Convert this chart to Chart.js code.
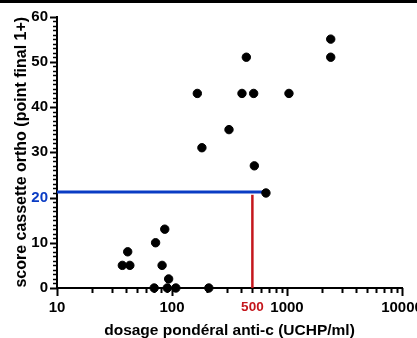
<!DOCTYPE html>
<html lang="fr">
<head>
  <meta charset="UTF-8" />
  <title>Score cassette ortho vs dosage pondéral anti-c</title>
  <script src="https://cdn.jsdelivr.net/npm/chart.js"></script>
  <style>
    * { margin: 0; padding: 0; box-sizing: border-box; }
    body { width: 417px; height: 338px; background: #fff; overflow: hidden; position: relative; }
    .top-bar { position: absolute; top: 0; left: 0; width: 417px; height: 3px; background: #000; }
    canvas { display: block; }
  </style>
</head>
<body>
<div class="top-bar"></div>
<canvas id="chart" width="417" height="338"></canvas>
<script>
  // data
  const dose  = [2400, 2400, 443, 166, 406, 513, 1040, 313, 182, 520, 656,
                 86.5, 72, 41.2, 37, 43, 82, 93.5, 70, 91, 108, 209];
  const score = [55, 51, 51, 43, 43, 43, 43, 35, 31, 27, 21,
                 13, 10, 8, 5, 5, 5, 2, 0, 0, 0, 0];

  const xTicks = [10, 100, 500, 1000, 10000];
  const yTicks = [0, 10, 20, 30, 40, 50, 60];

  // cut-off lines
  const cutoffDose = 500;
  const cutoffScore = 21.2;
  const hLineEnd = 656;

  const BLUE = "#0a3cc4";
  const RED = "#c4161c";
  const FONT = "'Liberation Sans', Arial, sans-serif";

  // ruler-like ticks (major + minor) pointing outward
  const tickMarks = {
    id: "tickMarks",
    beforeDatasetsDraw(chart) {
      const c = chart.ctx;
      const x = chart.scales.x, y = chart.scales.y;
      const area = chart.chartArea;
      c.save();
      c.strokeStyle = "#000";
      for (let v = 0; v <= 60; v++) {
        const py = Math.round(y.getPixelForValue(v)) + 0.5;
        const major = v % 10 === 0;
        c.lineWidth = major ? 2 : 1.5;
        c.beginPath();
        c.moveTo(area.left - (major ? 7 : 4), py);
        c.lineTo(area.left, py);
        c.stroke();
      }
      for (let d = 10; d <= 10000; d *= 10) {
        for (let k = 1; k <= 9; k++) {
          const v = d * k;
          if (v > 10000) break;
          const px = Math.round(x.getPixelForValue(v)) + 0.5;
          const major = k === 1;
          c.lineWidth = 2;
          c.beginPath();
          c.moveTo(px, area.bottom);
          c.lineTo(px, area.bottom + (major ? 8 : 5));
          c.stroke();
        }
      }
      c.restore();
    }
  };

  const points = dose.map((d, i) => ({ x: d, y: score[i] }));

  new Chart(document.getElementById("chart"), {
    type: "scatter",
    data: {
      datasets: [
        {
          data: points,
          backgroundColor: "#000",
          borderColor: "#000",
          pointRadius: 4.2,
          pointHoverRadius: 4.2,
          clip: false,
          order: 0
        },
        {
          type: "line",
          data: [{ x: 10, y: cutoffScore }, { x: hLineEnd, y: cutoffScore }],
          borderColor: BLUE,
          borderWidth: 3,
          pointRadius: 0,
          clip: false,
          order: 1
        },
        {
          type: "line",
          data: [{ x: cutoffDose, y: 0 }, { x: cutoffDose, y: cutoffScore - 0.6 }],
          borderColor: RED,
          borderWidth: 2.5,
          pointRadius: 0,
          clip: false,
          order: 2
        }
      ]
    },
    options: {
      responsive: false,
      animation: false,
      layout: { padding: { top: 16.5, right: 15, left: 0, bottom: 0 } },
      plugins: { legend: { display: false }, tooltip: { enabled: false } },
      scales: {
        x: {
          type: "logarithmic",
          min: 10,
          max: 10000,
          grid: { display: true, drawOnChartArea: false, drawTicks: false },
          border: { color: "#000", width: 2 },
          afterBuildTicks: s => { s.ticks = xTicks.map(v => ({ value: v })); },
          afterFit: s => { s.height = 50; s.paddingLeft = 0; s.paddingRight = 0; },
          ticks: {
            autoSkip: false,
            maxRotation: 0,
            padding: 11,
            callback: v => String(v),
            color: ctx => ctx.tick && ctx.tick.value === cutoffDose ? RED : "#000",
            font: ctx => ({
              family: FONT,
              weight: "bold",
              size: ctx.tick && ctx.tick.value === cutoffDose ? 13.5 : 15
            })
          },
          title: {
            display: true,
            text: "dosage pondéral anti-c (UCHP/ml)",
            color: "#000",
            font: { family: FONT, weight: "bold", size: 15.5 },
            padding: { top: 0, bottom: -2 }
          }
        },
        y: {
          min: 0,
          max: 60,
          grid: { display: true, drawOnChartArea: false, drawTicks: false },
          border: { color: "#000", width: 2 },
          afterBuildTicks: s => { s.ticks = yTicks.map(v => ({ value: v })); },
          afterFit: s => { s.width = 57; s.paddingTop = 0; s.paddingBottom = 0; },
          ticks: {
            padding: 9,
            color: ctx => ctx.tick && ctx.tick.value === 20 ? BLUE : "#000",
            font: { family: FONT, weight: "bold", size: 15 }
          },
          title: {
            display: true,
            text: "score cassette ortho (point final 1+)",
            color: "#000",
            font: { family: FONT, weight: "bold", size: 16 },
            padding: { top: 12, bottom: 0 }
          }
        }
      }
    },
    plugins: [tickMarks]
  });
</script>
</body>
</html>
